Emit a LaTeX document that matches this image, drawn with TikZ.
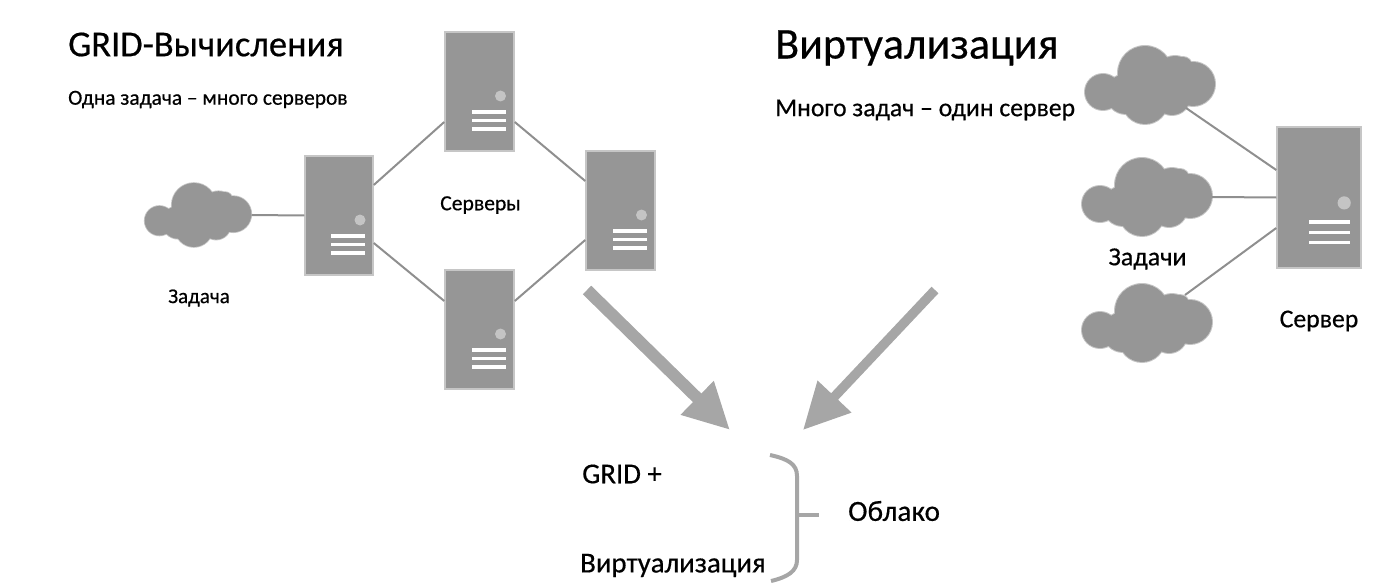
\documentclass[tikz,border=0pt]{standalone}
\usepackage{fontspec}
\setmainfont[FakeBold=0.5]{Carlito}
\usetikzlibrary{arrows.meta,calc}
\definecolor{srvgray}{HTML}{969696}
\definecolor{srvedge}{HTML}{C6C6C6}
\definecolor{srvdot}{HTML}{C4C4C4}
\definecolor{wiregray}{HTML}{8F8F8F}
\definecolor{arrowgray}{HTML}{A6A6A6}
\tikzset{
  srvbox/.style={draw=srvedge,fill=srvgray,line width=1.5pt,inner sep=0pt},
  wire/.style={draw=wiregray,line width=2pt},
  bigarrow/.style={draw=arrowgray,fill=arrowgray,-{Triangle[length=46pt,width=44pt]}},
  brace/.style={draw=arrowgray,line width=4pt},
  txt/.style={inner sep=0pt,text=black},
}
% name, x, y, width, height, scale
\newcommand{\srv}[6]{
\node[srvbox,minimum width=#4pt,minimum height=#5pt] (#1) at (#2,#3) {};
\fill[srvdot] ($(#1)+(21*#6,4.5*#6)$) circle (5.5*#6);
\foreach \k in {20.5,29,37.5}
  \fill[white] ($(#1)+(-8*#6,\k*#6-1.7)$) rectangle ($(#1)+(26*#6,\k*#6+1.7)$);
}
% name, x, y, scale
\newcommand{\cloudy}[4]{
\begin{scope}[shift={(#2,#3)},scale=#4]
\fill[srvedge] (-47,7) circle (19) (-5,-12) circle (28) (-5,16) circle (24)
  (43,-1) circle (23) (33,-19) circle (10) (-24,9) circle (21) (25,-9) circle (21) (22,12) circle (19);
\fill[srvgray] (-47,7) circle (18) (-5,-12) circle (27) (-5,16) circle (23)
  (43,-1) circle (22) (33,-19) circle (9) (-24,9) circle (20) (25,-9) circle (20) (22,12) circle (18);
\end{scope}
\node[minimum width=#4*130pt,minimum height=#4*78pt,inner sep=0pt] (#1) at (#2,#3) {};
}
\begin{document}
\begin{tikzpicture}[x=1pt,y=-1pt]
\useasboundingbox (0,0) rectangle (1389,583);

% GRID
\cloudy{task}{198}{215}{0.82}
\srv{srvA}{339}{215.5}{68}{119}{1}
\srv{srvB}{479.5}{91.5}{69}{119}{1}
\srv{srvC}{620.5}{210.5}{69}{119}{1}
\srv{srvD}{479.5}{329.5}{69}{119}{1}

\draw[wire] (task.east) -- (srvA.west);
\draw[wire] ([shift={(0,-30.5)}]srvA.east) -- ([shift={(0,30.5)}]srvB.west);
\draw[wire] ([shift={(0,27.5)}]srvA.east) -- ([shift={(0,-28.5)}]srvD.west);
\draw[wire] ([shift={(0,30.5)}]srvB.east) -- ([shift={(0,-29.5)}]srvC.west);
\draw[wire] ([shift={(0,-28.5)}]srvD.east) -- ([shift={(0,29.5)}]srvC.west);

\node[txt,anchor=west,font=\fontsize{36.5}{40}\selectfont] (gridtitle) at (68,44.5) {GRID-Вычисления};
\node[txt,anchor=west,font=\fontsize{21.4}{24}\selectfont] (gridsub) at (68,99.5) {Одна задача – много серверов};
\node[txt,font=\fontsize{21.6}{24}\selectfont] (srvlabel) at (480.5,205) {Серверы};
\node[txt,font=\fontsize{21}{24}\selectfont] (tasklabel) at (199,298) {Задача};

% Virt
\cloudy{jobA}{1150}{85}{1}
\cloudy{jobB}{1147}{197}{1}
\cloudy{jobC}{1147}{323}{1}
\srv{srvE}{1319}{197.5}{84}{141}{1.2}

\draw[wire] ([shift={(36,23)}]jobA.center) -- ([shift={(0,-27.5)}]srvE.west);
\draw[wire] (jobB.east) -- (srvE.west);
\draw[wire] ([shift={(38,-28)}]jobC.center) -- ([shift={(0,30.5)}]srvE.west);

\node[txt,anchor=west,font=\fontsize{44}{48}\selectfont] (virttitle) at (775,48) {Виртуализация};
\node[txt,anchor=west,font=\fontsize{25.7}{28}\selectfont] (virtsub) at (775,110) {Много задач – один сервер};
\node[txt,font=\fontsize{26}{28}\selectfont] (joblabel) at (1147.5,259) {Задачи};
\node[txt,font=\fontsize{25.7}{28}\selectfont] (srvElabel) at (1319,321) {Сервер};

% Arrows
\coordinate (arrA) at (587,290);
\coordinate (arrAend) at (730,430);
\coordinate (arrB) at (935,290);
\coordinate (arrBend) at (803,430);
\draw[bigarrow,line width=12pt] (arrA) -- (arrAend);
\draw[bigarrow,line width=9.5pt] (arrB) -- (arrBend);

% Result
\coordinate (brA) at (770,455);
\coordinate (brB) at (771,581);
\coordinate (brM) at (797,515);
\coordinate (brEnd) at (819,515);
\draw[brace] (brA) .. controls (788,459) and (797,464) .. (797,476) -- (797,560) .. controls (797,571) and (788,577) .. (brB);
\draw[brace] (brM) -- (brEnd);

\node[txt,anchor=west,font=\fontsize{28.8}{32}\selectfont] (sumA) at (582,474) {GRID +};
\node[txt,anchor=west,font=\fontsize{28.8}{32}\selectfont] (sumB) at (580,565.5) {Виртуализация};
\node[txt,anchor=west,font=\fontsize{29.2}{32}\selectfont] (sumC) at (848,511) {Облако};
\end{tikzpicture}
\end{document}
